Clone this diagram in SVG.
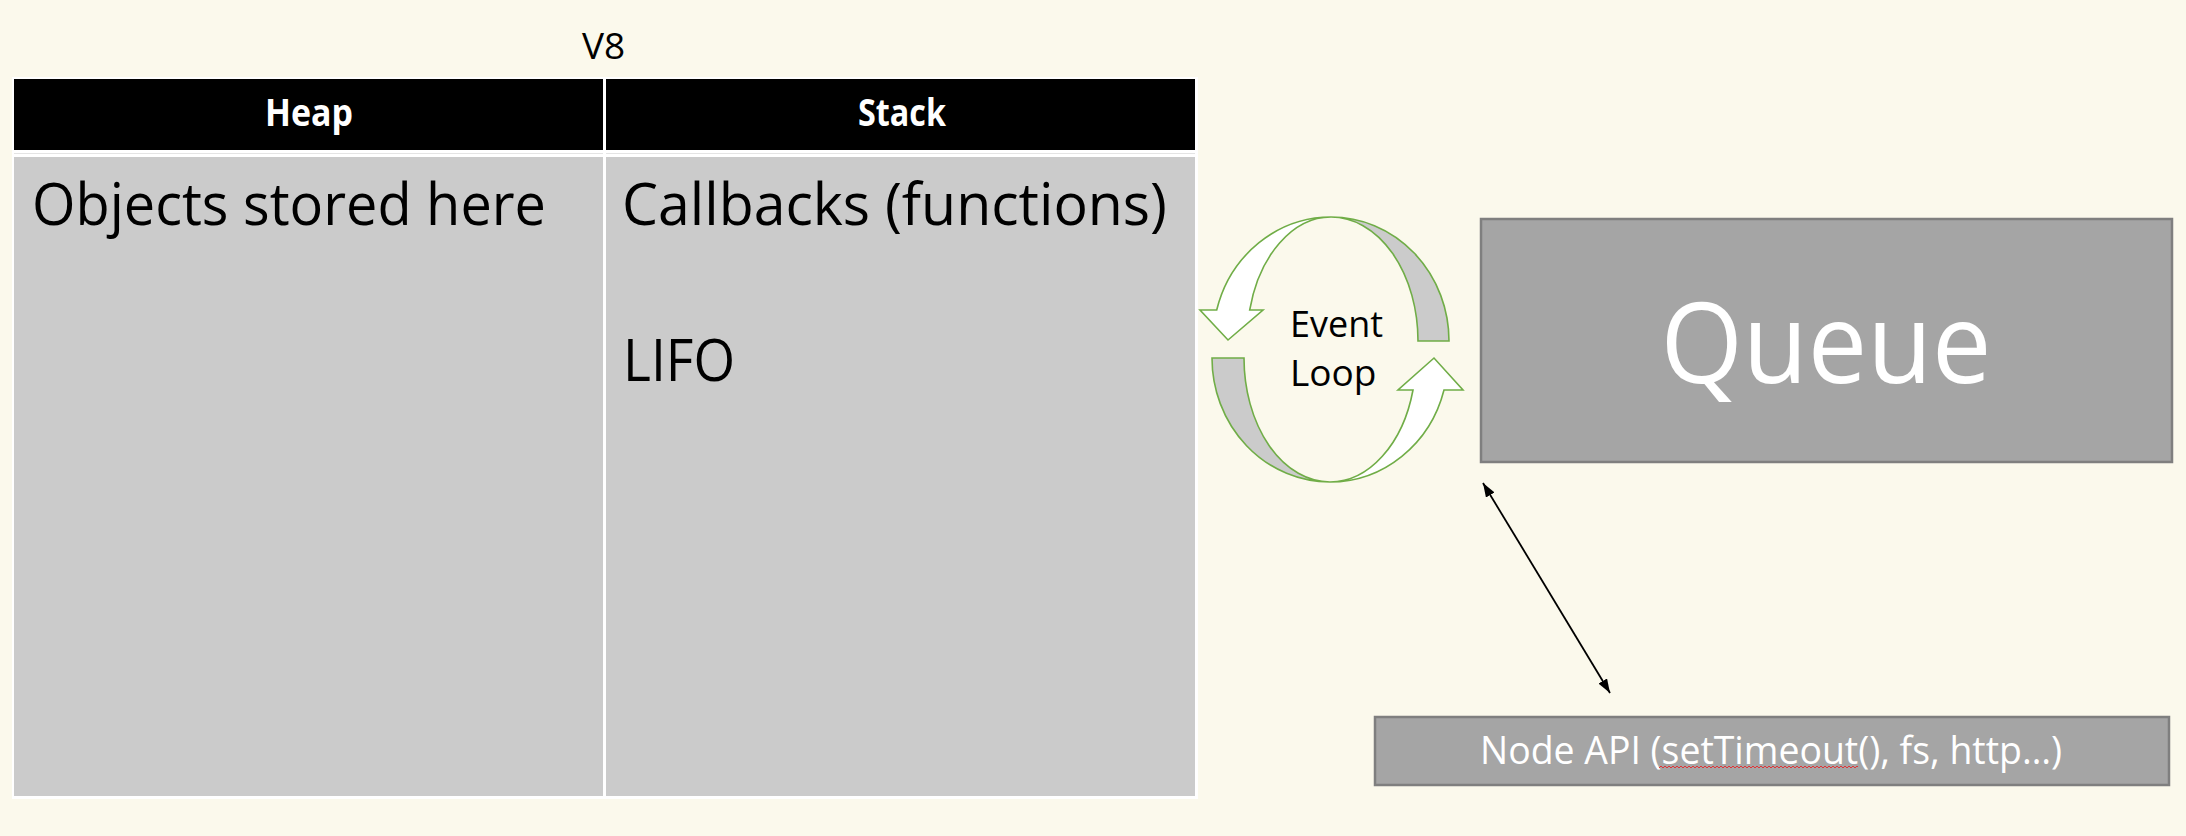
<svg xmlns="http://www.w3.org/2000/svg" width="2186" height="836" viewBox="0 0 2186 836">
  <style>
    .t { font-family: "Open Sans", "Noto Sans", "Liberation Sans", sans-serif; }
    .blk { fill: #000000; }
    .wht { fill: #FFFFFF; }
    .loop { stroke: #70AD47; stroke-width: 1.6; stroke-linejoin: miter; }
    .box { fill: #A5A5A5; stroke: #7F7F7F; stroke-width: 2.5; }
  </style>
  <defs>
    <marker id="ah" viewBox="0 0 14 10" refX="14" refY="5" markerWidth="14" markerHeight="10" markerUnits="userSpaceOnUse" orient="auto-start-reverse">
      <path d="M0,0 L14,5 L0,10 Z" fill="#000000"/>
    </marker>
    <pattern id="squiggle" x="1659" y="765" width="4" height="4" patternUnits="userSpaceOnUse">
      <path d="M0,3 L2,1 L4,3" fill="none" stroke="#E8262A" stroke-width="0.9"/>
    </pattern>
  </defs>
  <rect x="0" y="0" width="2186" height="836" fill="#FBF9EC"/>

  <text class="t blk" x="603.5" y="59" font-size="37" text-anchor="middle">V8</text>

  <g id="v8-table">
    <rect x="12" y="77" width="1186" height="722" fill="#FFFFFF"/>
    <rect x="14" y="79" width="1181" height="71" fill="#000000"/>
    <rect x="14" y="157" width="1181" height="639" fill="#CBCBCB"/>
    <line x1="14" y1="153.5" x2="1195" y2="153.5" stroke="#E4E4E4" stroke-width="1"/>
    <rect x="603" y="77" width="3" height="722" fill="#FFFFFF"/>
  </g>

  <g id="heap">
    <text class="t wht" x="309" y="126" font-size="37" font-weight="700" text-anchor="middle" textLength="88" lengthAdjust="spacingAndGlyphs">Heap</text>
    <text class="t blk" x="32" y="225" font-size="58" textLength="514" lengthAdjust="spacingAndGlyphs">Objects stored here</text>
  </g>

  <g id="stack">
    <text class="t wht" x="902" y="126" font-size="37" font-weight="700" text-anchor="middle" textLength="88" lengthAdjust="spacingAndGlyphs">Stack</text>
    <text class="t blk" x="622" y="225" font-size="58" textLength="545" lengthAdjust="spacingAndGlyphs">Callbacks (functions)</text>
    <text class="t blk" x="623" y="381" font-size="58" textLength="112" lengthAdjust="spacingAndGlyphs">LIFO</text>
  </g>

  <g id="event-loop">
    <path class="loop" fill="#FFFFFF" d="M1331,217 A118,124 0 0 0 1216.7,310 L1200,310 L1228,340 L1263,310 L1249.7,310 A84,124 0 0 1 1331,217 Z"/>
    <path class="loop" fill="#CBCBCB" d="M1331,217 A118,124 0 0 1 1449,341 L1418,341 A87,124 0 0 0 1331,217 Z"/>
    <path class="loop" fill="#CBCBCB" d="M1212,358 L1244,358 A86,124 0 0 0 1330,482 A118,124 0 0 1 1212,358 Z"/>
    <path class="loop" fill="#FFFFFF" d="M1330,482 A118,124 0 0 0 1444,390 L1463,390 L1434,358 L1398,390 L1413,390 A86,124 0 0 1 1330,482 Z"/>
    <text class="t blk" x="1290" y="337" font-size="37" textLength="93" lengthAdjust="spacingAndGlyphs">Event</text>
    <text class="t blk" x="1290" y="386" font-size="37">Loop</text>
  </g>

  <g id="queue">
    <rect class="box" x="1481" y="219" width="691" height="243"/>
    <text class="t wht" x="1826" y="383" font-size="112" text-anchor="middle" textLength="331" lengthAdjust="spacingAndGlyphs">Queue</text>
  </g>

  <g id="node-api">
    <rect class="box" x="1375" y="717" width="794" height="68"/>
    <text class="t wht" x="1771" y="764" font-size="38" text-anchor="middle" textLength="582" lengthAdjust="spacingAndGlyphs">Node API (setTimeout(), fs, http…)</text>
    <rect x="1659" y="765" width="199" height="4" fill="url(#squiggle)"/>
  </g>

  <g id="connectors">
    <line x1="1483" y1="483" x2="1610" y2="693" stroke="#000000" stroke-width="1.8" marker-start="url(#ah)" marker-end="url(#ah)"/>
  </g>
</svg>
